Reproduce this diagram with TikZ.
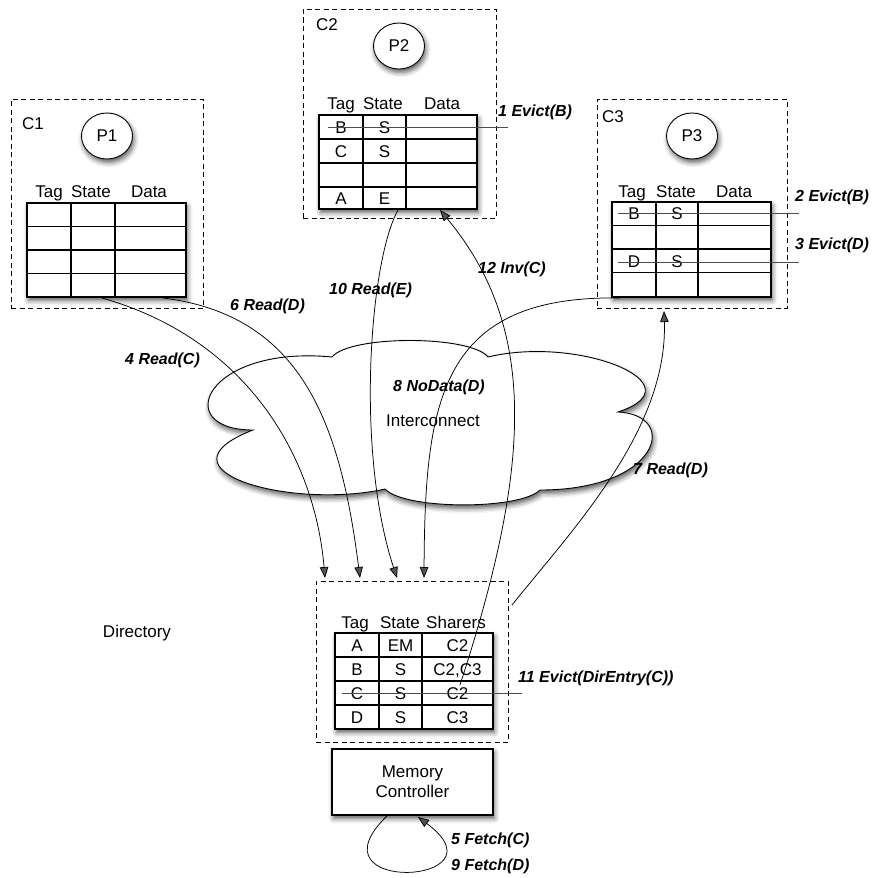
\documentclass[tikz,border=0pt]{standalone}
\usepackage{fontspec}
\setmainfont{Liberation Sans}
\usetikzlibrary{arrows.meta,shadows.blur,shapes.geometric}
\begin{document}
\begin{tikzpicture}[x=1pt,y=-1pt,
  txt/.style={font=\fontsize{17}{20}\selectfont, inner sep=0pt},
  hdr/.style={txt, anchor=base},
  cell/.style={txt, anchor=base},
  lbl/.style={font=\fontsize{16}{18}\selectfont\bfseries\itshape, inner sep=0pt, anchor=west},
  dashbox/.style={draw, line width=0.9pt, dash pattern=on 5pt off 3.5pt, inner sep=0pt},
  shad/.style={blur shadow={shadow xshift=1.5pt, shadow yshift=-3.5pt, shadow blur radius=5pt, shadow opacity=65}},
  tbl/.style={draw, line width=1.1pt, fill=white, shad, inner sep=0pt},
  proc/.style={ellipse, draw, line width=0.9pt, fill=white, minimum width=51pt, minimum height=46pt, inner sep=0pt, shad, txt},
  grid/.style={line width=1.1pt},
  strike/.style={draw=black!70, line width=0.8pt},
  msg/.style={draw, line width=0.75pt, -{Triangle[length=11pt,width=8.5pt]}},
]
\useasboundingbox (0,0) rectangle (871,878);

% ---------- cloud ----------
\path[draw, line width=0.9pt, fill=white, shad]
  (253,430) .. controls (170,430) and (205,345) .. (332,357)
  .. controls (350,335) and (470,335) .. (488,357)
  .. controls (580,335) and (700,385) .. (618,412)
  .. controls (680,415) and (660,490) .. (540,490)
  .. controls (520,510) and (405,510) .. (385,489)
  .. controls (290,510) and (150,470) .. (253,430) -- cycle;
\node[txt] (ic) at (433,421) {Interconnect};

% ---------- cache C1 ----------
\node[dashbox, minimum width=192pt, minimum height=209pt] (c1) at (107,203.5) {};
\node[txt, anchor=west] (c1l) at (22,124) {C1};
\node[proc] (p1) at (107,136) {P1};
\node[hdr] (h1a) at (49,197) {Tag};
\node[hdr] (h1b) at (91,197) {State};
\node[hdr] (h1c) at (149,197) {Data};
\node[tbl, minimum width=159pt, minimum height=94pt] (t1) at (106.5,250) {};
\draw[grid] (71,203) -- (71,297) (115,203) -- (115,297)
  (27,226.5) -- (186,226.5) (27,250) -- (186,250) (27,273.5) -- (186,273.5);

% ---------- cache C2 ----------
\node[dashbox, minimum width=193pt, minimum height=209pt] (c2) at (399.5,113.5) {};
\node[txt, anchor=west] (c2l) at (316,25) {C2};
\node[proc] (p2) at (399,46) {P2};
\node[hdr] (h2a) at (341,109) {Tag};
\node[hdr] (h2b) at (383,109) {State};
\node[hdr] (h2c) at (442,109) {Data};
\node[tbl, minimum width=158pt, minimum height=94pt] (t2) at (398,162) {};
\draw[grid] (363,115) -- (363,209) (406,115) -- (406,209)
  (319,139) -- (477,139) (319,163) -- (477,163) (319,187) -- (477,187);
\node[cell] at (341,133) {B};
\node[cell] at (384.5,133) {S};
\node[cell] at (341,157) {C};
\node[cell] at (384.5,157) {S};
\node[cell] at (341,204) {A};
\node[cell] at (384.5,204) {E};
\coordinate (s2a) at (328,127);
\coordinate (s2b) at (508,127);
\draw[strike] (s2a) -- (s2b);
\node[lbl] (l1) at (498,112) {1 Evict(B)};

% ---------- cache C3 ----------
\node[dashbox, minimum width=190pt, minimum height=209pt] (c3) at (692,203.5) {};
\node[txt, anchor=west] (c3l) at (602,117) {C3};
\node[proc] (p3) at (692,136) {P3};
\node[hdr] (h3a) at (632,197) {Tag};
\node[hdr] (h3b) at (676,197) {State};
\node[hdr] (h3c) at (734,197) {Data};
\node[tbl, minimum width=159pt, minimum height=95pt] (t3) at (691.5,249.5) {};
\draw[grid] (656,202) -- (656,297) (698,202) -- (698,297)
  (612,225.5) -- (771,225.5) (612,249) -- (771,249) (612,272.5) -- (771,272.5);
\node[cell] at (634,219.5) {B};
\node[cell] at (677,219.5) {S};
\node[cell] at (634,267) {D};
\node[cell] at (677,267) {S};
\coordinate (s3a) at (618,213);
\coordinate (s3b) at (799,213);
\coordinate (s3c) at (618,262);
\coordinate (s3d) at (799,262);
\draw[strike] (s3a) -- (s3b);
\draw[strike] (s3c) -- (s3d);
\node[lbl] (l2) at (795,197) {2 Evict(B)};
\node[lbl] (l3) at (795,245) {3 Evict(D)};

% ---------- directory ----------
\node[txt] (dirl) at (137,633) {Directory};
\node[dashbox, minimum width=192pt, minimum height=161pt] (dir) at (412,661.5) {};
\node[hdr] (hda) at (355,628) {Tag};
\node[hdr] (hdb) at (400,628) {State};
\node[hdr] (hdc) at (456,628) {Sharers};
\node[tbl, minimum width=158pt, minimum height=96pt] (td) at (414,681) {};
\draw[grid] (379,633) -- (379,729) (422,633) -- (422,729)
  (335,657) -- (493,657) (335,681) -- (493,681) (335,705) -- (493,705);
\node[cell] at (357,651) {A};
\node[cell] at (400.5,651) {EM};
\node[cell] at (457.5,651) {C2};
\node[cell] at (357,675) {B};
\node[cell] at (400.5,675) {S};
\node[cell] at (457.5,675) {C2,C3};
\node[cell] at (357,699) {C};
\node[cell] at (400.5,699) {S};
\node[cell] at (457.5,699) {C2};
\node[cell] at (357,723) {D};
\node[cell] at (400.5,723) {S};
\node[cell] at (457.5,723) {C3};
\coordinate (sda) at (342,693);
\coordinate (sdb) at (522,693);
\draw[strike] (sda) -- (sdb);
\node[lbl] (l11) at (518,678) {11 Evict(DirEntry(C))};

% ---------- memory controller ----------
\node[draw, line width=1.1pt, fill=white, shad, minimum width=161pt, minimum height=66pt,
  align=center, font=\fontsize{17}{20}\selectfont, inner sep=0pt] (mc) at (412.5,782) {Memory\\Controller};
\coordinate (mls) at (387,816);
\coordinate (mle) at (418,817);
\draw[msg] (mls) .. controls (305,895) and (510,885) .. (mle);
\node[lbl] (l5) at (451,840) {5 Fetch(C)};
\node[lbl] (l9) at (451,866) {9 Fetch(D)};

% ---------- messages ----------
\coordinate (a4s) at (102,298);
\coordinate (a4e) at (325,578);
\draw[msg] (a4s) .. controls (250,340) and (315,460) .. (a4e);
\node[lbl] (l4) at (125,360) {4 Read(C)};

\coordinate (a6s) at (163,298);
\coordinate (a6e) at (360,578);
\draw[msg] (a6s) .. controls (300,315) and (340,420) .. (a6e);
\node[lbl] (l6) at (230,306) {6 Read(D)};

\coordinate (a10s) at (398,210);
\coordinate (a10e) at (397,578);
\draw[msg] (a10s) .. controls (370,260) and (355,450) .. (a10e);
\node[lbl] (l10) at (329,290) {10 Read(E)};

\coordinate (a12s) at (460,685);
\coordinate (a12e) at (440,210);
\draw[msg] (a12s) .. controls (530,470) and (540,330) .. (a12e);
\node[lbl] (l12) at (478,269) {12 Inv(C)};

\coordinate (a8s) at (620,298);
\coordinate (a8e) at (424,578);
\draw[msg] (a8s) .. controls (440,295) and (425,400) .. (a8e);
\node[lbl] (l8) at (393,387) {8 NoData(D)};

\coordinate (a7s) at (512,605);
\coordinate (a7e) at (664,311);
\draw[msg] (a7s) .. controls (572,530) and (668,430) .. (a7e);
\node[lbl] (l7) at (633,470) {7 Read(D)};
\end{tikzpicture}
\end{document}
